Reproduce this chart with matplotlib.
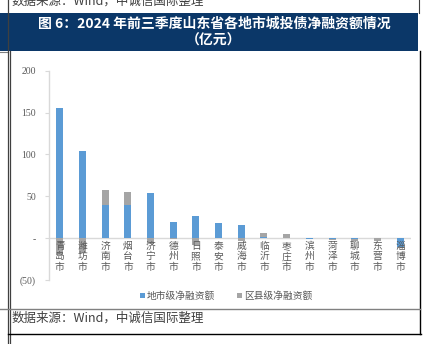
import matplotlib
matplotlib.use("Agg")
import matplotlib.pyplot as plt
import numpy as np
from matplotlib.patches import Rectangle
from matplotlib.lines import Line2D

plt.rcParams['font.family'] = ['Noto Sans CJK SC', 'DejaVu Sans']

cities = ["青岛市", "潍坊市", "济南市", "烟台市", "济宁市", "德州市", "日照市", "泰安市",
          "威海市", "临沂市", "枣庄市", "滨州市", "菏泽市", "聊城市", "东营市", "淄博市"]
city_level = [155, 104, 40, 39, 54, 19, 27, 18, 16, 1, 0.5, -1, -1, -0.5, 0, -10]
county_level = [-20, -18, 17, 16, -7, -1, -8, 0, -3, 5, 4.5, 0, -0.8, -3, -4, -1.5]
series_names = ["地市级净融资额", "区县级净融资额"]
yticks = [-50, 0, 50, 100, 150, 200]
ytick_labels = ["(50)", "-", "50", "100", "150", "200"]
title_lines = ["图 6：2024 年前三季度山东省各地市城投债净融资额情况", "（亿元）"]
source = "数据来源：Wind，中诚信国际整理"

W, H = 423, 344
fig = plt.figure(figsize=(W / 100, H / 100), dpi=100)

def fx(x):
    return x / W

def fy(y):
    return 1 - y / H

blue = "#5b9bd5"
gray = "#a5a5a5"
navy = "#0b3768"

# header band
fig.add_artist(Rectangle((0, fy(51)), fx(418), (51 - 13) / H, transform=fig.transFigure,
                         facecolor=navy, edgecolor="none", zorder=0))
fig.text(fx(214), fy(23.5), title_lines[0], color="white", fontsize=10, fontweight="bold",
         ha="center", va="center")
fig.text(fx(214), fy(41), title_lines[1], color="white", fontsize=10, fontweight="bold",
         ha="center", va="center")

# top source text (cut by the top edge, as in the reference)
fig.text(fx(12), fy(1), source, color="#404040", fontsize=9, ha="left", va="center")

# frame lines
def hline(y, x0, x1, color, lw):
    fig.add_artist(Line2D([fx(x0), fx(x1)], [fy(y), fy(y)], transform=fig.transFigure,
                          color=color, lw=lw))

def vline(x, y0, y1, color, lw):
    fig.add_artist(Line2D([fx(x), fx(x)], [fy(y0), fy(y1)], transform=fig.transFigure,
                          color=color, lw=lw))

hline(51.5, 0, 8, "#808080", 0.8)
vline(8.3, 0, 344, "#404040", 0.9)
vline(10.0, 51, 344, "#404040", 0.9)
vline(418.5, 0, 13, "#404040", 0.8)
vline(420.3, 51, 334, "#000000", 1.0)
hline(309.3, 0, 420, "#808080", 1.0)
hline(333.5, 8, 421, "#000000", 1.0)

# bottom source
fig.text(fx(12), fy(318), source, color="#404040", fontsize=9, ha="left", va="center",
         style="italic")

# axes
ax = fig.add_axes([fx(48.5), fy(280), fx(411.4) - fx(48.5), fy(70.7) - fy(280)])
x = np.arange(len(cities))
cl = np.array(city_level, dtype=float)
cn = np.array(county_level, dtype=float)
bottom_c = np.where((np.sign(cn) == np.sign(cl)) & (cl != 0), cl, 0)
ax.bar(x, cl, width=0.31, color=blue, zorder=2, label=series_names[0])
ax.bar(x, cn, width=0.31, bottom=bottom_c, color=gray, zorder=2, label=series_names[1])
ax.axhline(0, color="#d9d9d9", lw=1.0, zorder=1)

ax.set_xlim(-0.5, len(cities) - 0.5)
ax.set_ylim(-50, 200)
ax.set_yticks(yticks)
ax.set_yticklabels(ytick_labels, fontfamily="Liberation Serif", fontsize=7, color="#595959")
ax.tick_params(axis="y", length=3, width=0.8, color="#d9d9d9", pad=6)
ax.set_xticks([])
for s in ["top", "right", "bottom"]:
    ax.spines[s].set_visible(False)
ax.spines["left"].set_color("#d9d9d9")
ax.spines["left"].set_linewidth(1.0)
ax.patch.set_alpha(0)

for i, c in enumerate(cities):
    ax.annotate("\n".join(c), (i, 0), xytext=(0, -2), textcoords="offset points",
                ha="center", va="top", fontsize=7, color="#595959", linespacing=1.05,
                zorder=3)

leg = fig.legend(loc="center", bbox_to_anchor=(fx(226), fy(296)), ncol=2, frameon=False,
                 fontsize=7, handlelength=0.55, handleheight=0.55, handletextpad=0.2,
                 columnspacing=2.2, labelcolor="#595959")

fig.savefig("out.png", dpi=100)
